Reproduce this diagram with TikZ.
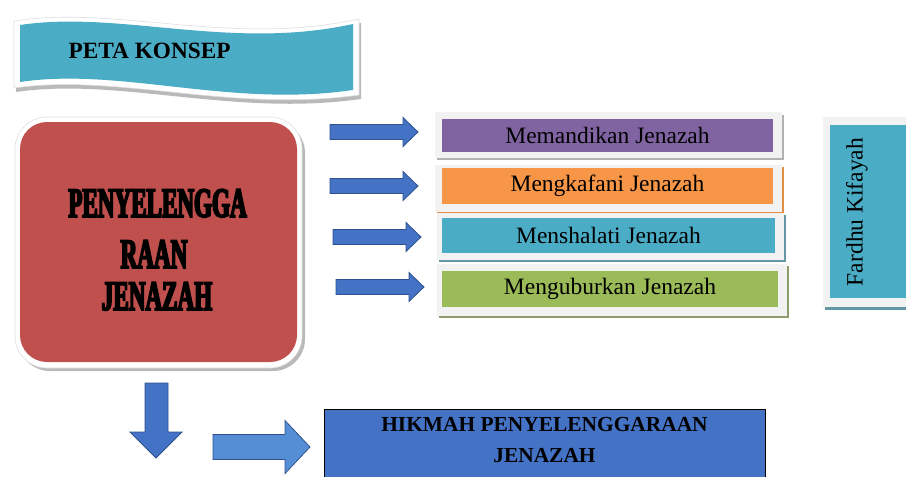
\documentclass[tikz,border=0pt]{standalone}
\usepackage{fontspec}
\setmainfont{Liberation Serif}
\newfontfamily\condfont{Liberation Serif}[FakeStretch=0.55,FakeBold=4]
\definecolor{bannerteal}{HTML}{4BACC6}
\definecolor{boxred}{HTML}{C0504D}
\definecolor{boxpurple}{HTML}{8064A2}
\definecolor{boxorange}{HTML}{F79646}
\definecolor{boxgreen}{HTML}{9BBB59}
\definecolor{boxblue}{HTML}{4472C4}
\definecolor{arrowblue}{HTML}{4472C4}
\definecolor{arrowedge}{HTML}{2F528F}
\definecolor{bigarrow}{HTML}{558ED5}
\definecolor{panelgrey}{HTML}{F2F2F2}
\tikzset{
  blockarrow/.style={fill=arrowblue, draw=arrowedge, line width=0.8pt, line join=miter},
  panel/.style={fill=panelgrey},
  itembox/.style={inner sep=0pt, font=\fontsize{23.5}{26}\selectfont, text=black},
  heavytext/.style={font=\condfont\bfseries\fontsize{42}{42}\selectfont, inner sep=0pt, text height=28pt, text depth=0pt, anchor=base},
}
\begin{document}
\begin{tikzpicture}[x=1pt,y=-1pt]
\useasboundingbox (0,0) rectangle (906,477);
\fill[white] (0,0) rectangle (906,477);

% ---- banner PETA KONSEP
\fill[gray!55, transform canvas={shift={(2pt,-4pt)}}]
  (14,21) .. controls (118,5) and (230,47) .. (359,19) -- (359,95)
  .. controls (230,113) and (118,73) .. (14,88) -- cycle;
\filldraw[fill=white, draw=gray!25, line width=0.6pt]
  (14,21) .. controls (118,5) and (230,47) .. (359,19) -- (359,95)
  .. controls (230,113) and (118,73) .. (14,88) -- cycle;
\fill[bannerteal]
  (20,25) .. controls (120,10) and (230,51) .. (353,24) -- (353,90)
  .. controls (230,108) and (120,67) .. (20,82) -- cycle;
\node[font=\fontsize{23.3}{25}\selectfont\bfseries, anchor=west] (peta) at (65,51) {PETA KONSEP};

% ---- main red box
\fill[gray!55, rounded corners=32] (18,121) rectangle (305,371);
\filldraw[fill=white, draw=gray!25, line width=0.6pt, rounded corners=32] (15,117) rectangle (302,368);
\node[fill=boxred, rounded corners=27, minimum width=277, minimum height=240, inner sep=0pt] (main) at (158.5,242) {};
\node[heavytext] (l1) at (157.5,217) {PENYELENGGA};
\node[heavytext] (l2) at (154,268) {RAAN};
\node[heavytext] (l3) at (157,310) {JENAZAH};

% ---- right arrows
\draw[blockarrow] (330,124.5) -- (403,124.5) -- (403,117.5) -- (418,132) -- (403,146.5) -- (403,139.5) -- (330,139.5) -- cycle;
\draw[blockarrow] (330,178.5) -- (403,178.5) -- (403,171.5) -- (418,186) -- (403,200.5) -- (403,193.5) -- (330,193.5) -- cycle;
\draw[blockarrow] (333,229.5) -- (406,229.5) -- (406,222.5) -- (421,237) -- (406,251.5) -- (406,244.5) -- (333,244.5) -- cycle;
\draw[blockarrow] (336,279.5) -- (409,279.5) -- (409,272.5) -- (424,287) -- (409,301.5) -- (409,294.5) -- (336,294.5) -- cycle;

% ---- item boxes
\fill[gray!60] (437,115) rectangle (784,160);
\fill[panel] (435,112) rectangle (782,158);
\node[itembox, fill=boxpurple, minimum width=331, minimum height=33] (mem) at (607.5,135.5) {Memandikan Jenazah};

\fill[boxorange!60!brown] (437,167) rectangle (784,214);
\fill[panel] (435,165) rectangle (782,212);
\node[itembox, fill=boxorange, minimum width=331, minimum height=36] (kaf) at (607.5,186) {Mengkafani Jenazah};

\fill[bannerteal!50!gray] (439,215) rectangle (786,262);
\fill[panel] (437,213) rectangle (784,260);
\node[itembox, fill=bannerteal, minimum width=333, minimum height=35] (sha) at (608.5,235.5) {Menshalati Jenazah};

\fill[boxgreen!50!gray] (439,266) rectangle (789,318);
\fill[panel] (437,264) rectangle (787,316);
\node[itembox, fill=boxgreen, minimum width=336, minimum height=36] (kub) at (610,289) {Menguburkan Jenazah};

% ---- Fardhu Kifayah
\fill[bannerteal!50!gray] (825,120) rectangle (910,310);
\fill[panel] (823,117) rectangle (910,307);
\fill[bannerteal] (830,125) rectangle (910,298);
\node[itembox, rotate=90] (fard) at (857,212) {Fardhu Kifayah};

% ---- down arrow
\draw[blockarrow] (145,383) -- (168,383) -- (168,432) -- (182,432) -- (156,458) -- (130,432) -- (145,432) -- cycle;

% ---- big right arrow
\draw[blockarrow, fill=bigarrow] (213,434.5) -- (285,434.5) -- (285,420.5) -- (310,447) -- (285,473.5) -- (285,459.5) -- (213,459.5) -- cycle;

% ---- hikmah box
\draw[fill=boxblue, draw=black, line width=0.8pt] (324,409) rectangle (765,490);
\node[font=\fontsize{21.4}{31}\selectfont\bfseries, align=center, inner sep=0pt] (hik) at (544.5,440) {HIKMAH PENYELENGGARAAN\\JENAZAH};
\end{tikzpicture}
\end{document}
